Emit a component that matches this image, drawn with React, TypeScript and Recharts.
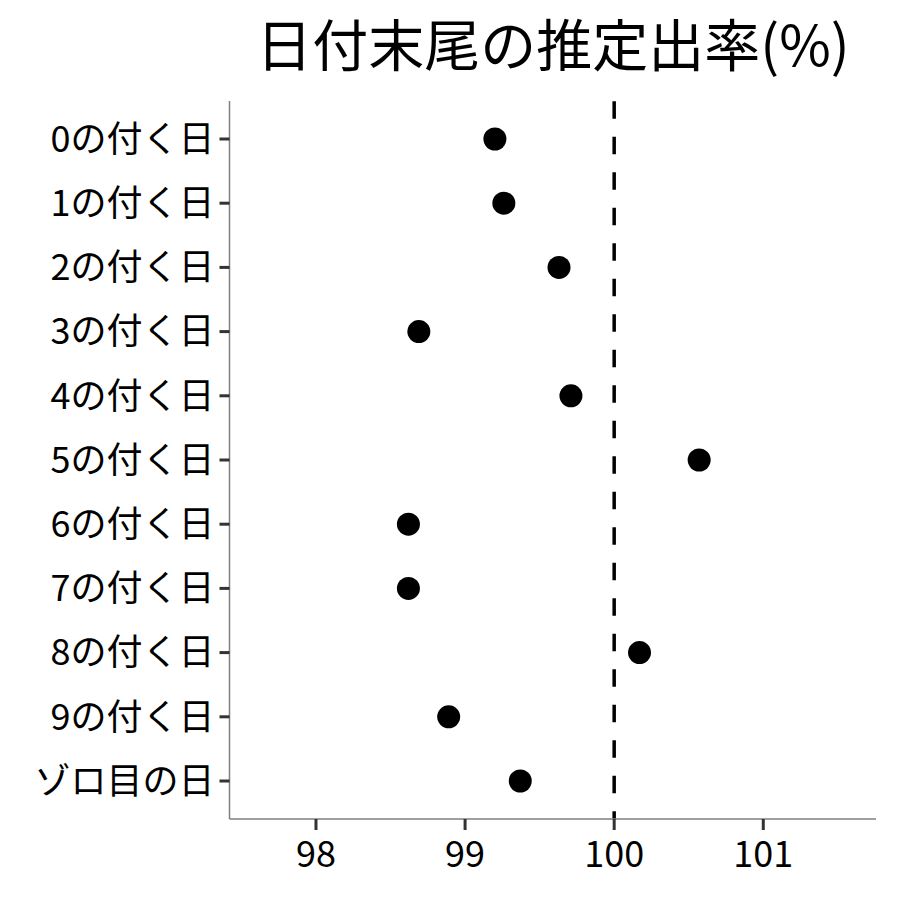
import React from 'react';
import { ScatterChart, Scatter, XAxis, YAxis, ReferenceLine } from 'recharts';

// Category labels, top to bottom
const labels = [
  '0の付く日', '1の付く日', '2の付く日', '3の付く日', '4の付く日', '5の付く日',
  '6の付く日', '7の付く日', '8の付く日', '9の付く日', 'ゾロ目の日',
];

// Estimated rate (%) per category
const rates = [99.2, 99.26, 99.63, 98.69, 99.71, 100.57, 98.62, 98.62, 100.17, 98.89, 99.37];

const xTicks = [98, 99, 100, 101];
const title = '日付末尾の推定出率(%)';

const FONT = '"Noto Sans CJK JP", "Noto Sans", sans-serif';

const data = labels.map((label, i) => ({ label, rate: rates[i] }));

const Dot = (props: any) => <circle cx={props.cx} cy={props.cy} r={11.5} fill="#000" />;

export default function App() {
  return (
    <div style={{ position: 'absolute', left: 0, top: 0, width: 900, height: 900, background: '#fff' }}>
      <svg width={900} height={100} style={{ position: 'absolute', left: 0, top: 0 }}>
        <text x={553} y={66} textAnchor="middle" fontSize={56} fontFamily={FONT} fill="#000">
          {title}
        </text>
      </svg>
      <div style={{ position: 'absolute', left: 0, top: 0 }}>
        <ScatterChart width={900} height={900} margin={{ top: 101, right: 24, bottom: 21, left: 0 }}>
          <XAxis
            type="number"
            dataKey="rate"
            domain={[97.42, 101.756]}
            ticks={xTicks}
            allowDataOverflow
            height={60}
            tickSize={11}
            tickMargin={11}
            axisLine={{ stroke: '#7f7f7f', strokeWidth: 1.5 }}
            tickLine={{ stroke: '#333', strokeWidth: 3 }}
            tick={{ fill: '#000', fontSize: 36, fontFamily: FONT }}
          />
          <YAxis
            type="category"
            dataKey="label"
            scale="point"
            reversed
            allowDuplicatedCategory={false}
            padding={{ top: 38, bottom: 38 }}
            width={229.5}
            tickSize={10}
            tickMargin={5}
            interval={0}
            axisLine={{ stroke: '#7f7f7f', strokeWidth: 1.5 }}
            tickLine={{ stroke: '#333', strokeWidth: 3 }}
            tick={{ fill: '#000', fontSize: 36, fontFamily: FONT }}
          />
          <ReferenceLine x={100} stroke="#000" strokeWidth={3.5} strokeDasharray="17.5 18" strokeDashoffset={9.8} />
          <Scatter data={data} fill="#000" shape={Dot} isAnimationActive={false} />
        </ScatterChart>
      </div>
    </div>
  );
}
